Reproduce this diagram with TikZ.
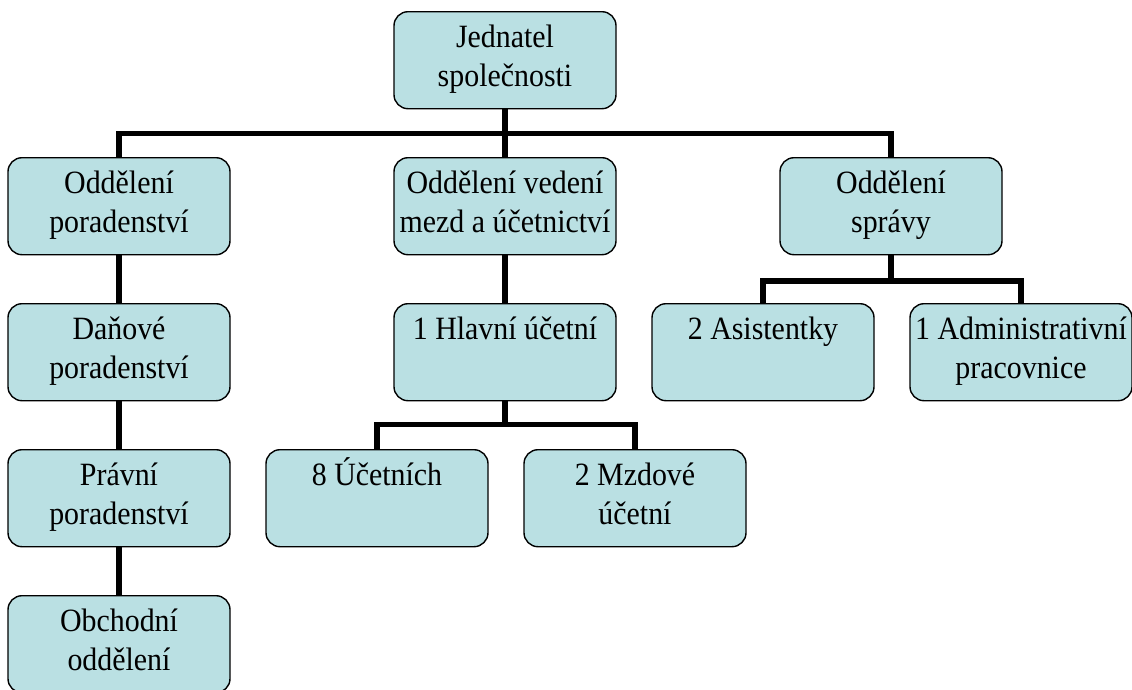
\documentclass[tikz,border=0pt]{standalone}
\usepackage{fontspec}
\setmainfont[FakeStretch=0.92]{Liberation Serif}
\definecolor{boxfill}{RGB}{186,224,227}
\newcommand{\bxt}[1]{\parbox[c][97pt][t]{222pt}{\centering\fontsize{32.5}{39.5}\selectfont\rule{0pt}{35.5pt}#1}}
\tikzset{
  orgbox/.style={draw=black, line width=1.4pt, fill=boxfill, rounded corners=14pt,
    inner sep=0pt, minimum width=222pt, minimum height=97pt, anchor=north},
  link/.style={line width=5.5pt, line join=miter, line cap=butt}
}
\begin{document}
\begin{tikzpicture}[x=1pt,y=-1pt]
\useasboundingbox (0,0) rectangle (1132,689);
\coordinate (b1) at (0,133.5);
\coordinate (b2) at (0,424.5);
\coordinate (b3) at (0,281);
% boxes
\node[orgbox] (jed) at (505,11) {\bxt{Jednatel\\společnosti}};
\node[orgbox] (por) at (119,157) {\bxt{Oddělení\\poradenství}};
\node[orgbox] (mzd) at (505,157) {\bxt{Oddělení vedení\\mezd a účetnictví}};
\node[orgbox] (spr) at (891,157) {\bxt{Oddělení\\správy}};
\node[orgbox] (dan) at (119,303) {\bxt{Daňové\\poradenství}};
\node[orgbox] (hla) at (505,303) {\bxt{1 Hlavní účetní}};
\node[orgbox] (asi) at (763,303) {\bxt{2 Asistentky}};
\node[orgbox] (adm) at (1021,303) {\bxt{1 Administrativní\\pracovnice}};
\node[orgbox] (pra) at (119,449) {\bxt{Právní\\poradenství}};
\node[orgbox] (uce) at (377,449) {\bxt{8 Účetních}};
\node[orgbox] (mzu) at (635,449) {\bxt{2 Mzdové\\účetní}};
\node[orgbox] (obc) at (119,595) {\bxt{Obchodní\\oddělení}};
% connectors
\draw[link] (jed.south) -- (jed.south |- b1) -| (por.north);
\draw[link] (jed.south) -- (mzd.north);
\draw[link] (jed.south) -- (jed.south |- b1) -| (spr.north);
\draw[link] (por.south) -- (dan.north);
\draw[link] (dan.south) -- (pra.north);
\draw[link] (pra.south) -- (obc.north);
\draw[link] (mzd.south) -- (hla.north);
\draw[link] (hla.south) -- (hla.south |- b2) -| (uce.north);
\draw[link] (hla.south) -- (hla.south |- b2) -| (mzu.north);
\draw[link] (spr.south) -- (spr.south |- b3) -| (asi.north);
\draw[link] (spr.south) -- (spr.south |- b3) -| (adm.north);
\end{tikzpicture}
\end{document}
